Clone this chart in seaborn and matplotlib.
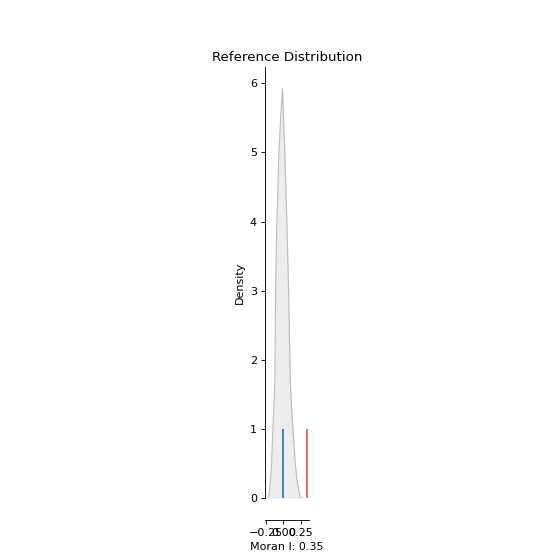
import matplotlib
matplotlib.use("Agg")
import matplotlib.pyplot as plt
import seaborn as sns
import numpy as np

# Reference distribution density
sim_x = [-0.25, -0.222, -0.200, -0.184, -0.169, -0.150, -0.135, -0.121, -0.111, -0.095,
         -0.064, -0.035, -0.010, 0.005, 0.023, 0.040, 0.055, 0.077, 0.101, 0.120,
         0.139, 0.153, 0.170, 0.188, 0.205, 0.225, 0.243, 0.260, 0.275, 0.29]
sim_density = [0.0, 0.0, 0.08, 0.26, 0.5, 1.0, 1.35, 1.73, 3.0, 3.87,
               4.96, 5.55, 5.92, 5.5, 4.96, 4.4, 3.87, 3.0, 1.73, 1.3,
               1.0, 0.8, 0.55, 0.36, 0.22, 0.12, 0.02, 0.0, 0.01, 0.0]
moran_I = 0.347
moran_EI = -0.01

fig = plt.figure(figsize=(7, 7), dpi=80)
ax = fig.add_subplot(111)
ax.set_aspect('equal')

sns.lineplot(x=sim_x, y=sim_density, color='#bababa', linewidth=1, ax=ax)
ax.fill_between(sim_x, sim_density, color='#bababa', alpha=0.25, linewidth=0)

ax.vlines(moran_I, 0, 1, color='#d6604d')
ax.vlines(moran_EI, 0, 1)

ax.set_xlim(-0.27, 0.378)
ax.set_ylim(0, 6.23)
ax.set_xticks([-0.25, 0.0, 0.25])
ax.set_title('Reference Distribution')
ax.set_xlabel('Moran I: ' + str(round(moran_I, 2)))
ax.set_ylabel('Density')
sns.despine(ax=ax)
ax.spines['bottom'].set_position(('outward', 19.5))

fig.savefig('out.png', dpi=80)
